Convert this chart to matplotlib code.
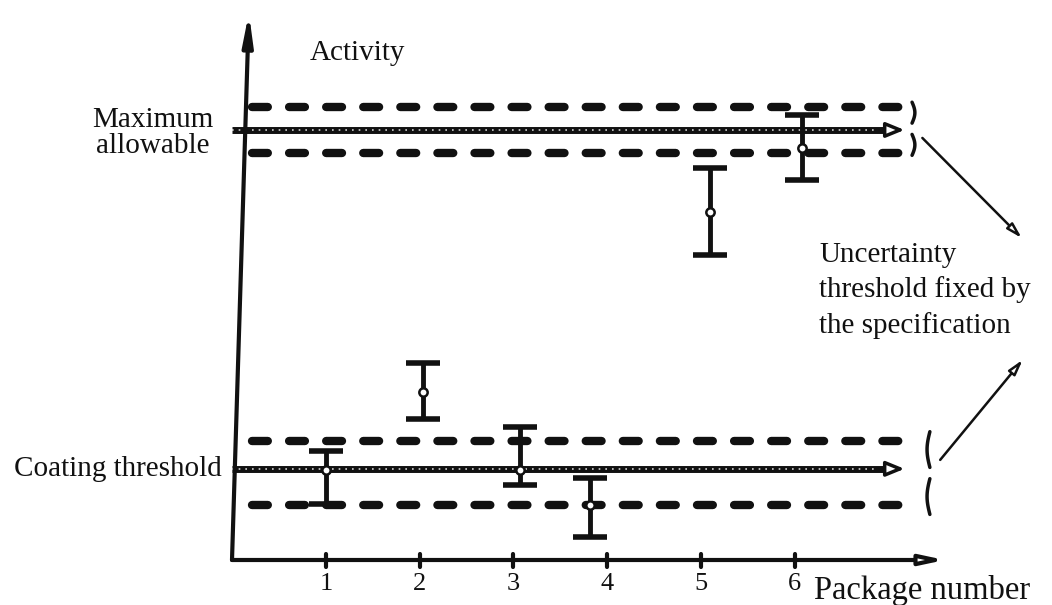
import matplotlib
matplotlib.use("Agg")
import matplotlib.pyplot as plt
import numpy as np

# ---- data ----
packages = [1, 2, 3, 4, 5, 6]
bar_x = [1.0, 2.04, 3.07, 3.82, 5.1, 6.08]
bar_center = [1.91, 3.57, 1.91, 1.17, 7.40, 8.77]
bar_low = [1.19, 3.00, 1.60, 0.49, 6.49, 8.09]
bar_high = [2.32, 4.19, 2.83, 1.74, 8.34, 9.47]

max_allowable = 9.15
max_band = [8.66, 9.64]
coating_threshold = 1.94
coating_band = [1.17, 2.53]

tick_labels = ["1", "2", "3", "4", "5", "6"]

# ---- figure ----
plt.rcParams['font.family'] = ['Liberation Serif', 'DejaVu Serif']
fig = plt.figure(figsize=(10.52, 6.05), dpi=100)
ax = fig.add_axes([0, 0, 1, 1])
sx, sy = 93.8, 47.0
ax.set_xlim(-232 / sx, (1052 - 232) / sx)
ax.set_ylim(-45 / sy, 560 / sy)
ax.axis('off')

ink = '#111111'
fs = 21

# axes arrows
ax.annotate('', xy=(0.18, 11.64), xytext=(0, 0),
            arrowprops=dict(arrowstyle='-|>,head_length=1.8,head_width=0.3',
                            lw=3, color=ink, shrinkA=0, shrinkB=0))
ax.annotate('', xy=(7.6, 0), xytext=(0, 0),
            arrowprops=dict(arrowstyle='-|>,head_length=1.4,head_width=0.3',
                            lw=3, color=ink, fc='white', shrinkA=0, shrinkB=0))
for p in packages:
    ax.plot([p, p], [-0.15, 0.12], color=ink, lw=3, solid_capstyle='round')
for p, lab in zip(packages, tick_labels):
    ax.text(p, -0.5, lab, ha='center', va='center', fontsize=19, color=ink)

# dashed uncertainty bands
line_end = 7.17
for yb in max_band + coating_band:
    ax.plot([0.21, line_end], [yb, yb], color=ink, lw=6,
            dashes=(1.9, 2.55), dash_capstyle='round')

# reference lines with open arrowheads
for yl in [max_allowable, coating_threshold]:
    ax.plot([0, line_end - 0.22], [yl, yl], color=ink, lw=5, solid_capstyle='butt')
    ax.plot([0, line_end - 0.22], [yl, yl], color='white', lw=1.2,
            dashes=(1, 3), alpha=0.8)
    ax.annotate('', xy=(line_end, yl), xytext=(line_end - 0.3, yl),
                arrowprops=dict(arrowstyle='-|>,head_length=1.1,head_width=0.45',
                                lw=2.5, color=ink, fc='white', shrinkA=0, shrinkB=0))

# error bars
c = np.array(bar_center)
ax.errorbar(bar_x, bar_center, yerr=[c - np.array(bar_low), np.array(bar_high) - c],
            fmt='none', ecolor=ink, elinewidth=3.5, capsize=12, capthick=4, zorder=5)
ax.plot(bar_x, bar_center, 'o', ms=6, mfc='white', mec=ink, mew=1.8, zorder=6)

# braces
def brace(xc, y0, y1, flip=1):
    t = np.linspace(0, 1, 60)
    mid = (y0 + y1) / 2
    gap = 0.12
    for a, b in [(y0, mid - gap), (mid + gap, y1)]:
        yy = a + (b - a) * t
        xx = xc + flip * 0.03 * np.sin(np.pi * t)
        ax.plot(xx, yy, color=ink, lw=2.5, solid_capstyle='round')

brace(7.25, max_band[0] - 0.05, max_band[1] + 0.1, flip=1)
brace(7.44, coating_band[0] - 0.2, coating_band[1] + 0.2, flip=-1)

# pointer arrows to the note
ax.annotate('', xy=(8.42, 6.85), xytext=(7.36, 8.98),
            arrowprops=dict(arrowstyle='-|>,head_length=0.9,head_width=0.25',
                            lw=1.8, color=ink, fc='white', shrinkA=0, shrinkB=0))
ax.annotate('', xy=(8.43, 4.26), xytext=(7.55, 2.13),
            arrowprops=dict(arrowstyle='-|>,head_length=0.9,head_width=0.25',
                            lw=1.8, color=ink, fc='white', shrinkA=0, shrinkB=0))

# texts
ax.text(0.83, 10.79, 'Activity', ha='left', va='center', fontsize=fs, color=ink)
ax.text(-0.84, 9.08, 'Maximum\nallowable', ha='center', va='center', fontsize=fs,
        color=ink, linespacing=1.0)
ax.text(-0.107, coating_threshold, 'Coating threshold', ha='right', va='center',
        fontsize=fs, color=ink)
ax.text(6.26, 5.74, 'Uncertainty\nthreshold fixed by\nthe specification',
        ha='left', va='center', fontsize=fs, color=ink, linespacing=1.4)
ax.text(6.2, -0.64, 'Package number', ha='left', va='center', fontsize=23.5, color=ink)

fig.savefig('out.png', dpi=100)
